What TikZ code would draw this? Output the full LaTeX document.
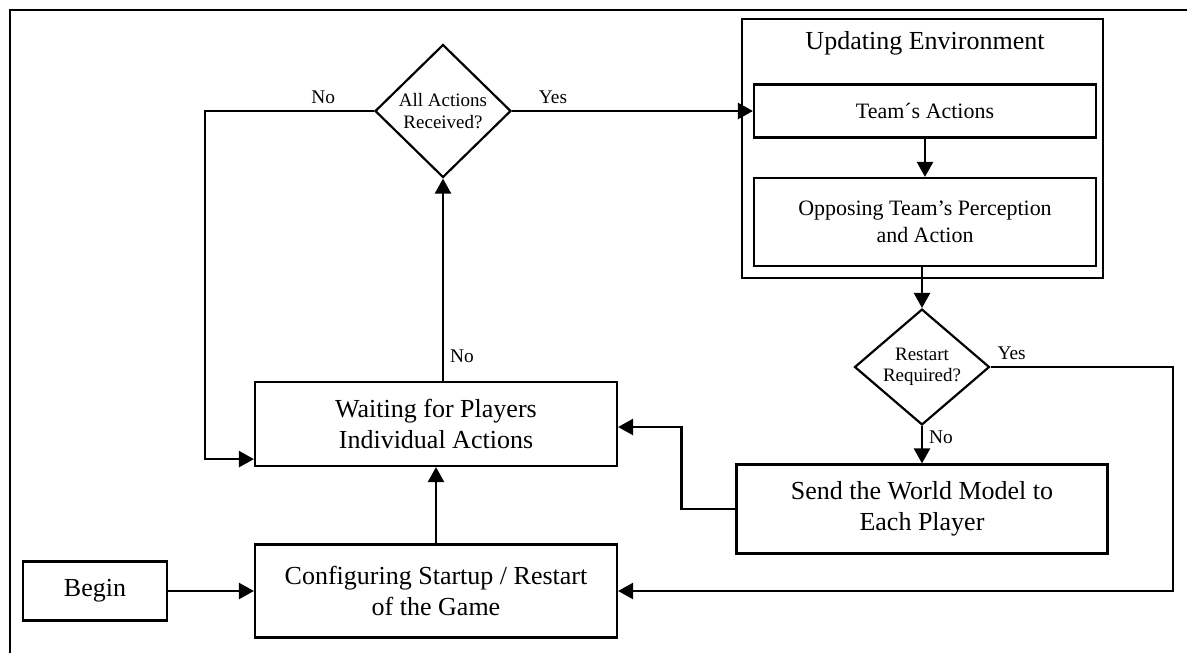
\documentclass[tikz,border=0pt]{standalone}
\usepackage{fontspec}
\setmainfont{Liberation Serif}
\usetikzlibrary{shapes.geometric,arrows.meta}
\tikzset{
  box/.style={draw,line width=1.25pt,align=center,inner sep=2pt},
  ask/.style={draw,diamond,line width=1.25pt,align=center,inner sep=0pt,
    font=\fontsize{10.8}{12.2}\selectfont},
  flow/.style={line width=1.35pt,-{Triangle[length=0.3cm,width=0.32cm]}},
  big/.style={font=\fontsize{14.8}{17.6}\selectfont},
  mid/.style={font=\fontsize{12.5}{15.3}\selectfont},
  tag/.style={font=\fontsize{11}{13}\selectfont}
}
\begin{document}
\begin{tikzpicture}[x=0.02cm,y=-0.02cm]
\useasboundingbox (0,0) rectangle (1187,653);
\draw[line width=1.3pt] (10,653) -- (10,10) -- (1187,10);
% left column
\node[box,big,minimum width=2.88cm,minimum height=1.18cm] (begin) at (95,591) {Begin};
\node[box,big,minimum width=7.24cm,minimum height=1.86cm] (config) at (436,591) {Configuring Startup / Restart\\of the Game};
\node[box,big,minimum width=7.24cm,minimum height=1.68cm] (wait) at (436,424) {Waiting for Players\\Individual Actions};
\node[ask,minimum width=2.72cm,minimum height=2.66cm] (allq) at (443,111) {All Actions\\Received?};
% environment update
\node[box,minimum width=7.22cm,minimum height=5.18cm] (env) at (922.5,148.5) {};
\node[big] (envtitle) at (925,43) {Updating Environment};
\node[box,mid,minimum width=6.84cm,minimum height=1.06cm] (team) at (925,111) {Team´s Actions};
\node[box,mid,minimum width=6.84cm,minimum height=1.76cm] (opp) at (925,222) {Opposing Team’s Perception\\and Action};
\node[ask,minimum width=2.7cm,minimum height=2.12cm] (restart) at (922,367) {Restart\\Required?};
\node[box,big,minimum width=7.42cm,minimum height=1.78cm] (send) at (922,509) {Send the World Model to\\Each Player};
\coordinate (rturn) at (1173,591);
% connectors
\draw[flow] (begin) -- (config);
\draw[flow] (config) -- (wait);
\draw[flow] (allq.south |- wait.north) -- node[tag,right,pos=0.12] {No} (allq.south);
\draw[flow] (allq.east) -- node[tag,above,pos=0.17] {Yes} (team.west);
\draw[flow] (allq.west) -- node[tag,above,pos=0.3] {No} ++(-169,0) |- ([yshift=0.16cm]wait.south west);
\draw[flow] (team.south -| opp) -- (opp.north);
\draw[flow] (opp.south -| restart) -- (restart.north);
\draw[flow] (restart.east) node[tag,above right] {Yes} -| (rturn) -- (config.east);
\draw[flow] (restart.south) -- node[tag,right,pos=0.3] {No} (send.north);
\draw[flow] (send.west) -- ++(-54,0) |- ([yshift=-0.06cm]wait.east);
\end{tikzpicture}
\end{document}
